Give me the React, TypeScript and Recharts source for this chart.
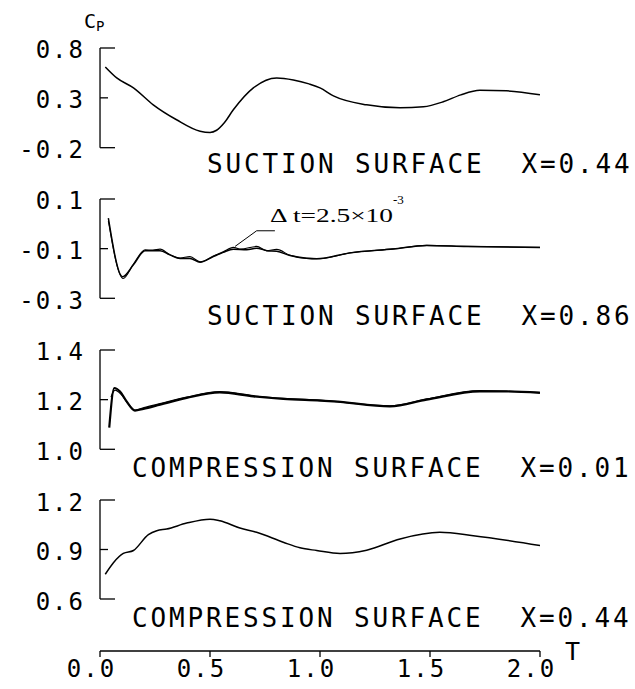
import React from 'react';
import { LineChart, Line, XAxis, YAxis, ReferenceLine } from 'recharts';

// ---- data (T = time, Cp = pressure coefficient) ----
const p1T = [0.024, 0.076, 0.152, 0.242, 0.348, 0.455, 0.5, 0.53, 0.565, 0.606, 0.697, 0.803, 0.879, 0.95, 1.0, 1.061, 1.212, 1.364, 1.47, 1.56, 1.64, 1.727, 1.848, 2.0];
const p1Cp = [0.61, 0.5, 0.4, 0.23, 0.08, -0.035, -0.047, -0.025, 0.05, 0.18, 0.4, 0.5, 0.48, 0.44, 0.4, 0.32, 0.23, 0.2, 0.21, 0.26, 0.33, 0.375, 0.37, 0.33];

const p2T = [0.038, 0.103, 0.152, 0.205, 0.273, 0.318, 0.364, 0.409, 0.455, 0.515, 0.56, 0.606, 0.667, 0.712, 0.758, 0.803, 0.864, 0.939, 0.985, 1.136, 1.333, 1.485, 1.667, 2.0];
const p2Cp = [0.023, -0.213, -0.165, -0.108, -0.108, -0.125, -0.14, -0.14, -0.155, -0.132, -0.115, -0.102, -0.104, -0.098, -0.108, -0.11, -0.128, -0.139, -0.141, -0.117, -0.101, -0.087, -0.091, -0.095];
const p2bT = [0.038, 0.105, 0.152, 0.205, 0.24, 0.273, 0.318, 0.364, 0.409, 0.455, 0.515, 0.56, 0.606, 0.64, 0.712, 0.758, 0.803, 0.864, 0.939, 1.0, 1.136, 1.333, 1.485, 1.667, 2.0];
const p2bCp = [0.012, -0.22, -0.162, -0.105, -0.106, -0.102, -0.125, -0.138, -0.132, -0.153, -0.13, -0.113, -0.095, -0.102, -0.091, -0.108, -0.103, -0.127, -0.139, -0.14, -0.117, -0.101, -0.087, -0.091, -0.095];

const p3T = [0.042, 0.065, 0.091, 0.121, 0.159, 0.197, 0.273, 0.394, 0.545, 0.697, 0.833, 1.0, 1.061, 1.318, 1.485, 1.727, 1.848, 2.0];
const p3Cp = [1.087, 1.247, 1.233, 1.193, 1.156, 1.163, 1.18, 1.207, 1.229, 1.213, 1.203, 1.196, 1.193, 1.173, 1.2, 1.233, 1.233, 1.227];
const p3bT = [0.05, 0.068, 0.095, 0.125, 0.16, 0.2, 0.273, 0.394, 0.545, 0.697, 0.833, 1.0, 1.318, 1.485, 1.727, 2.0];
const p3bCp = [1.21, 1.238, 1.222, 1.186, 1.158, 1.168, 1.184, 1.21, 1.232, 1.216, 1.205, 1.198, 1.175, 1.203, 1.236, 1.229];

const p4T = [0.024, 0.061, 0.106, 0.152, 0.22, 0.258, 0.303, 0.394, 0.5, 0.545, 0.636, 0.712, 0.833, 0.909, 0.985, 1.091, 1.212, 1.364, 1.545, 1.697, 2.0];
const p4Cp = [0.75, 0.82, 0.876, 0.894, 0.99, 1.014, 1.024, 1.06, 1.084, 1.074, 1.03, 1.004, 0.944, 0.91, 0.894, 0.876, 0.896, 0.964, 1.004, 0.984, 0.924];

const xTicks = [0, 0.5, 1.0, 1.5, 2.0];
const p1Ticks = [-0.2, 0.3, 0.8];
const p2Ticks = [-0.3, -0.1, 0.1];
const p3Ticks = [1.0, 1.2, 1.4];
const p4Ticks = [0.6, 0.9, 1.2];

const titles = [
  'SUCTION SURFACE  X=0.44',
  'SUCTION SURFACE  X=0.86',
  'COMPRESSION SURFACE  X=0.01',
  'COMPRESSION SURFACE  X=0.44',
];
const annotation = 'Δ t=2.5×10';
const annotationExp = '-3';

const rows = (t: number[], v: number[]) => t.map((x, i) => ({ t: x, cp: v[i] }));

const MONO = '"DejaVu Sans Mono", monospace';
const SERIF = '"Liberation Serif", "Times New Roman", serif';

function YTick(props: any) {
  const { x, y, payload, lo, hi } = props;
  const isEnd = Math.abs(payload.value - lo) < 1e-9 || Math.abs(payload.value - hi) < 1e-9;
  return (
    <g>
      <line x1={x} y1={y} x2={x + (isEnd ? 15 : 8)} y2={y} stroke="#000" strokeWidth={1.3} />
      <text x={85} y={y + 10.5} textAnchor="end" fontFamily={MONO} fontSize={24} letterSpacing={2} fill="#000">
        {Number(payload.value).toFixed(1)}
      </text>
    </g>
  );
}

function XTick(props: any) {
  const { x, y, payload } = props;
  return (
    <text x={x - 8.5} y={y + 20} textAnchor="middle" fontFamily={MONO} fontSize={24} letterSpacing={2} fill="#000">
      {Number(payload.value).toFixed(1)}
    </text>
  );
}

type Series = { data: { t: number; cp: number }[]; width: number };

function Panel(props: {
  plotTop: number;
  plotBottom: number;
  domain: [number, number];
  ticks: number[];
  series: Series[];
  children?: React.ReactNode;
}) {
  const { plotTop, plotBottom, domain, ticks, series } = props;
  const pad = 22;
  const h = plotBottom - plotTop + pad * 2;
  return (
    <div style={{ position: 'absolute', left: 0, top: plotTop - pad, width: 635, height: h }}>
      <LineChart width={635} height={h} margin={{ top: pad, right: 95, bottom: pad, left: 0 }}>
        <XAxis dataKey="t" type="number" domain={[0, 2]} hide allowDataOverflow />
        <YAxis
          type="number"
          domain={domain}
          ticks={ticks}
          width={100}
          axisLine={{ stroke: '#000', strokeWidth: 1.3 }}
          tickLine={false}
          tickSize={0}
          tickMargin={0}
          interval={0}
          allowDataOverflow
          tick={(p: any) => <YTick {...p} lo={domain[0]} hi={domain[1]} />}
        />
        {series.map((s, i) => (
          <Line
            key={i}
            data={s.data}
            dataKey="cp"
            type="monotone"
            stroke="#000"
            strokeWidth={s.width}
            dot={false}
            activeDot={false}
            isAnimationActive={false}
          />
        ))}
        {props.children}
      </LineChart>
    </div>
  );
}

const titleStyle: React.CSSProperties = { whiteSpace: 'pre' };

export default function App() {
  const p4Rows = rows(p4T, p4Cp);
  return (
    <div style={{ position: 'absolute', left: 0, top: 0, width: 635, height: 689, background: '#fff', overflow: 'hidden' }}>
      <Panel plotTop={48} plotBottom={147.7} domain={[-0.2, 0.8]} ticks={p1Ticks} series={[{ data: rows(p1T, p1Cp), width: 1.5 }]} />
      <Panel
        plotTop={199}
        plotBottom={298.3}
        domain={[-0.3, 0.1]}
        ticks={p2Ticks}
        series={[
          { data: rows(p2T, p2Cp), width: 1.5 },
          { data: rows(p2bT, p2bCp), width: 1.1 },
        ]}
      >
        <ReferenceLine segment={[{ x: 0.614, y: -0.091 }, { x: 0.712, y: -0.028 }]} stroke="#000" strokeWidth={1} ifOverflow="visible" />
        <ReferenceLine segment={[{ x: 0.712, y: -0.028 }, { x: 0.795, y: -0.028 }]} stroke="#000" strokeWidth={1} ifOverflow="visible" />
      </Panel>
      <Panel
        plotTop={350}
        plotBottom={449.3}
        domain={[1.0, 1.4]}
        ticks={p3Ticks}
        series={[
          { data: rows(p3T, p3Cp), width: 2.2 },
          { data: rows(p3bT, p3bCp), width: 1.2 },
        ]}
      />
      <Panel plotTop={500} plotBottom={599} domain={[0.6, 1.2]} ticks={p4Ticks} series={[{ data: p4Rows, width: 1.5 }]} />

      {/* shared T axis */}
      <div style={{ position: 'absolute', left: 0, top: 600, width: 635, height: 89 }}>
        <LineChart width={635} height={89} data={p4Rows} margin={{ top: 51, right: 95, bottom: 8, left: 100 }}>
          <XAxis
            dataKey="t"
            type="number"
            domain={[0, 2]}
            ticks={xTicks}
            interval={0}
            height={30}
            axisLine={{ stroke: '#000', strokeWidth: 1.3 }}
            tickLine={{ stroke: '#000', strokeWidth: 1.3 }}
            tickSize={6}
            tickMargin={0}
            tick={(p: any) => <XTick {...p} />}
          />
          <YAxis hide domain={[0, 1]} />
        </LineChart>
      </div>

      {/* texts */}
      <svg width={635} height={689} style={{ position: 'absolute', left: 0, top: 0, pointerEvents: 'none' }}>
        <text x={84} y={28} fontFamily={MONO} fontSize={20} fill="#000">
          C<tspan fontSize={14} dy={3}>P</tspan>
        </text>
        <text x={207} y={173} fontFamily={MONO} fontSize={26} letterSpacing={2.85} fill="#000" style={titleStyle}>{titles[0]}</text>
        <text x={207} y={325} fontFamily={MONO} fontSize={26} letterSpacing={2.85} fill="#000" style={titleStyle}>{titles[1]}</text>
        <text x={132} y={476.5} fontFamily={MONO} fontSize={26} letterSpacing={2.85} fill="#000" style={titleStyle}>{titles[2]}</text>
        <text x={132} y={626.5} fontFamily={MONO} fontSize={26} letterSpacing={2.85} fill="#000" style={titleStyle}>{titles[3]}</text>
        <text x={270} y={221.7} fontFamily={SERIF} fontSize={19} fill="#000" textLength={123} lengthAdjust="spacingAndGlyphs">{annotation}</text>
        <text x={393} y={204} fontFamily={SERIF} fontSize={13} fill="#000">{annotationExp}</text>
        <text x={572.5} y={660} textAnchor="middle" fontFamily={MONO} fontSize={25} fill="#000">T</text>
      </svg>
    </div>
  );
}
